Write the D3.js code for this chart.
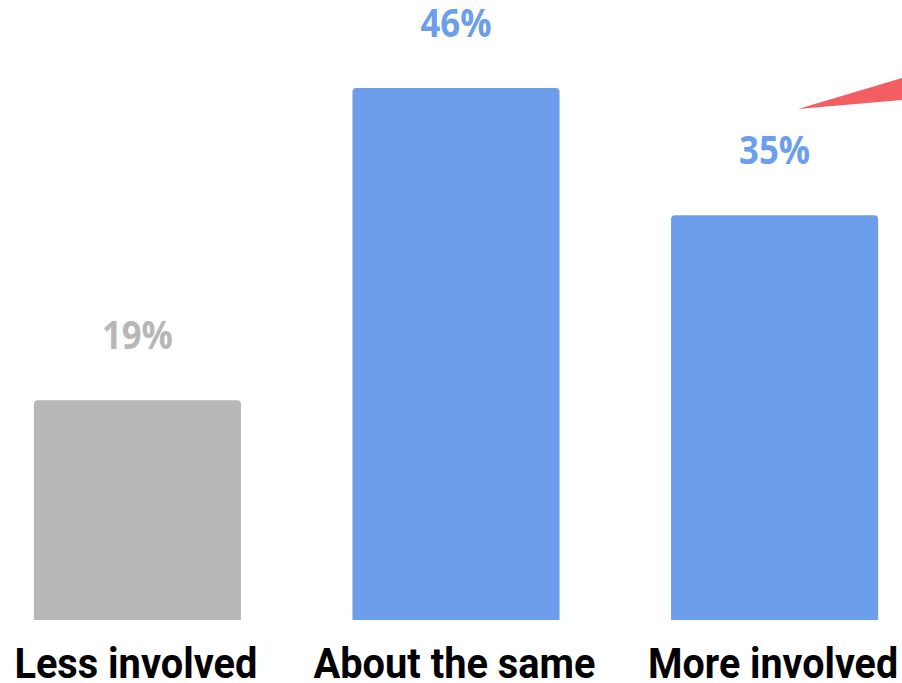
<!DOCTYPE html>
<html>
<head>
<meta charset="utf-8">
<script src="https://cdn.jsdelivr.net/npm/d3@7"></script>
<style>
  html, body { margin: 0; padding: 0; background: #fff; }
  svg { display: block; }
</style>
</head>
<body>
<div id="chart"></div>
<script>
const categories = ['Less involved', 'About the same', 'More involved'];
const values = [19, 46, 35];
const valueLabels = ['19%', '46%', '35%'];
const barColors = ['#b7b7b7', '#6d9eeb', '#6d9eeb'];

const width = 902;
const height = 683;

const svg = d3.select('#chart')
  .append('svg')
  .attr('width', width)
  .attr('height', height);

const scaleX = d3.scaleBand()
  .domain(categories)
  .range([2, 910])
  .paddingInner(0.35)
  .paddingOuter(0.1);

const scaleY = d3.scaleLinear()
  .domain([0, 46])
  .range([620, 88]);

// bar with rounded top corners only
const barPath = (x, y, w, h, r) =>
  `M${x},${y + h}V${y + r}Q${x},${y} ${x + r},${y}H${x + w - r}Q${x + w},${y} ${x + w},${y + r}V${y + h}Z`;

svg.append('g')
  .selectAll('path')
  .data(categories)
  .join('path')
  .attr('fill', (d, i) => barColors[i])
  .attr('d', (d, i) => {
    const y = scaleY(values[i]);
    return barPath(scaleX(d), y, scaleX.bandwidth(), scaleY(0) - y, 4);
  });

// value labels
svg.append('g')
  .selectAll('text')
  .data(categories)
  .join('text')
  .attr('x', d => scaleX(d) + scaleX.bandwidth() / 2)
  .attr('y', (d, i) => scaleY(values[i]) - 51)
  .attr('text-anchor', 'middle')
  .attr('font-family', '"Open Sans", sans-serif')
  .attr('font-weight', 700)
  .attr('font-size', 39)
  .attr('fill', (d, i) => barColors[i])
  .attr('textLength', 71)
  .attr('lengthAdjust', 'spacingAndGlyphs')
  .text((d, i) => valueLabels[i]);

// category labels
const labelWidths = [243, 282, 250];
svg.append('g')
  .selectAll('text')
  .data(categories)
  .join('text')
  .attr('x', d => scaleX(d) + scaleX.bandwidth() / 2 - 1.5)
  .attr('y', 678)
  .attr('text-anchor', 'middle')
  .attr('font-family', 'Roboto, sans-serif')
  .attr('font-weight', 700)
  .attr('font-size', 42)
  .attr('fill', '#000')
  .attr('textLength', (d, i) => labelWidths[i])
  .attr('lengthAdjust', 'spacingAndGlyphs')
  .text(d => d);

// red arrow wedge at top right
svg.append('polygon')
  .attr('points', '798,109 902,78 902,100')
  .attr('fill', '#f25e62');
</script>
</body>
</html>
